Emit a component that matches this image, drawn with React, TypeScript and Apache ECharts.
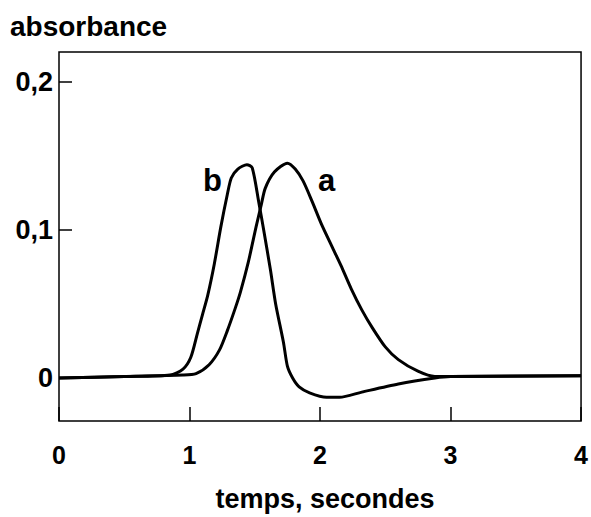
import React, { useEffect, useRef } from "react";
import * as echarts from "echarts";

const xTicks = [0, 1, 2, 3, 4];
const yTicks = [0, 0.1, 0.2];

const aX = [0, 0.5, 0.95, 1.05, 1.15, 1.23, 1.29, 1.35, 1.39, 1.45, 1.51, 1.55, 1.58, 1.65, 1.75, 1.81, 1.87, 1.94, 2.01, 2.09, 2.16, 2.24, 2.32, 2.4, 2.5, 2.6, 2.75, 2.88, 3.0, 4.0];
const aY = [0, 0.001, 0.002, 0.003, 0.009, 0.019, 0.032, 0.047, 0.058, 0.078, 0.102, 0.117, 0.128, 0.139, 0.145, 0.141, 0.133, 0.119, 0.104, 0.089, 0.076, 0.06, 0.046, 0.034, 0.021, 0.0124, 0.0046, 0.001, 0.001, 0.0015];

const bX = [0, 0.5, 0.85, 0.95, 1.01, 1.06, 1.1, 1.14, 1.19, 1.24, 1.29, 1.32, 1.37, 1.44, 1.48, 1.53, 1.57, 1.62, 1.66, 1.72, 1.75, 1.79, 1.84, 1.92, 2.05, 2.15, 2.32, 2.6, 2.88, 3.0, 4.0];
const bY = [0, 0.001, 0.002, 0.006, 0.014, 0.03, 0.043, 0.056, 0.077, 0.102, 0.124, 0.135, 0.141, 0.144, 0.142, 0.119, 0.099, 0.073, 0.05, 0.024, 0.008, 0.0, -0.006, -0.01, -0.013, -0.013, -0.0095, -0.004, 0.0, 0.001, 0.0015];

const curveLabels = ["a", "b"];
const labelX = [2.05, 1.175];
const labelY = [0.133, 0.133];

const FONT = "Liberation Sans, Arial, sans-serif";

export default function App() {
  const ref = useRef<HTMLDivElement>(null);
  useEffect(() => {
    if (!ref.current) return;
    const chart = echarts.init(ref.current, undefined, { renderer: "svg" });
    const lineStyle = { color: "#000", width: 3 };
    chart.setOption({
      animation: false,
      backgroundColor: "#fff",
      grid: {
        left: 59,
        right: 7,
        top: 52,
        bottom: 84,
        show: true,
        borderColor: "#000",
        borderWidth: 1.5,
      },
      xAxis: {
        type: "value",
        min: 0,
        max: 4,
        interval: 1,
        axisLine: { show: false, onZero: false },
        axisTick: { show: true, inside: true, length: 14, lineStyle: { color: "#000", width: 1.5 } },
        splitLine: { show: false },
        axisLabel: {
          color: "#000",
          fontFamily: FONT,
          fontWeight: "bold",
          fontSize: 25,
          margin: 21,
          customValues: xTicks,
        },
        name: "temps, secondes",
        nameLocation: "middle",
        nameGap: 64,
        nameTextStyle: { color: "#000", fontFamily: FONT, fontWeight: "bold", fontSize: 27, padding: [0, 0, 0, 10] },
      },
      yAxis: {
        type: "value",
        min: -0.029,
        max: 0.22,
        axisLine: { show: false, onZero: false },
        axisTick: {
          show: true,
          inside: true,
          length: 13,
          customValues: yTicks,
          lineStyle: { color: "#000", width: 1.5 },
        },
        splitLine: { show: false },
        axisLabel: {
          color: "#000",
          fontFamily: FONT,
          fontWeight: "bold",
          fontSize: 27,
          margin: 6,
          customValues: yTicks,
          formatter: (v: number) => (v === 0 ? "0" : v.toFixed(1).replace(".", ",")),
        },
      },
      graphic: [
        {
          type: "text",
          left: 10,
          top: 12,
          style: { text: "absorbance", fill: "#000", font: `bold 28px ${FONT}` },
        },
      ],
      series: [
        {
          type: "line",
          name: curveLabels[0],
          data: aX.map((x, i) => [x, aY[i]]),
          showSymbol: false,
          smooth: 0.25,
          lineStyle,
        },
        {
          type: "line",
          name: curveLabels[1],
          data: bX.map((x, i) => [x, bY[i]]),
          showSymbol: false,
          smooth: 0.25,
          lineStyle,
        },
        {
          type: "scatter",
          symbolSize: 0,
          itemStyle: { color: "#000", opacity: 1 },
          data: curveLabels.map((t, i) => ({ value: [labelX[i], labelY[i]], name: t })),
          label: {
            show: true,
            position: "inside",
            formatter: (p: any) => p.name,
            color: "#000",
            opacity: 1,
            textBorderWidth: 0,
            fontFamily: FONT,
            fontWeight: "bold",
            fontSize: 31,
          },
          silent: true,
        },
      ],
    });
    return () => chart.dispose();
  }, []);
  return <div ref={ref} style={{ width: 591, height: 517, position: "absolute", left: 0, top: 0 }} />;
}
